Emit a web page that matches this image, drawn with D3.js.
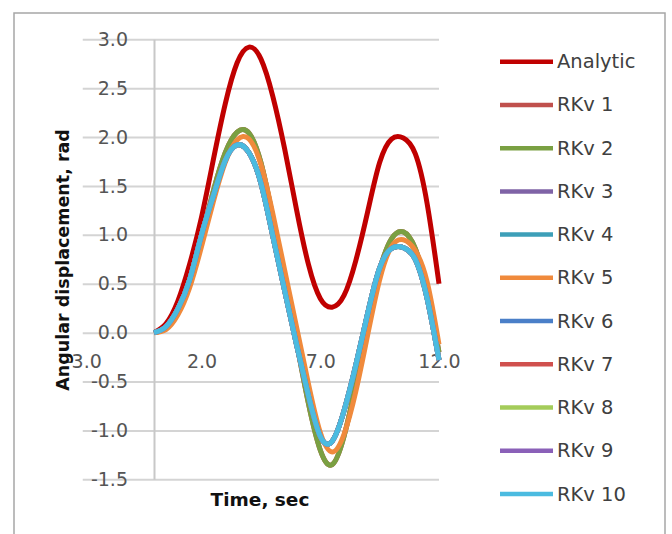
<!DOCTYPE html>
<html>
<head>
<meta charset="utf-8">
<script src="https://cdn.jsdelivr.net/npm/d3@7"></script>
<style>
  html, body { margin: 0; padding: 0; background: #ffffff; }
  svg { display: block; }
</style>
</head>
<body>
<svg id="chart" width="672" height="534"></svg>
<script>
// Time samples (s)
const timeSec = [0, 0.5, 1, 1.5, 2, 2.5, 3, 3.5, 4, 4.5, 5, 5.5, 6, 6.5, 7, 7.5, 8, 8.5, 9, 9.5, 10, 10.5, 11, 11.5, 12];

// Angular displacement (rad) for each solution
const analytic = [0, 0.09, 0.32, 0.70, 1.18, 1.77, 2.34, 2.76, 2.92, 2.80, 2.42, 1.88, 1.26, 0.70, 0.35, 0.26, 0.38, 0.74, 1.24, 1.74, 1.98, 1.99, 1.83, 1.32, 0.50];
const rkv1  = [0, 0.05, 0.22, 0.52, 0.97, 1.45, 1.84, 2.05, 2.04, 1.74, 1.18, 0.54, -0.10, -0.72, -1.20, -1.35, -1.06, -0.52, 0.10, 0.64, 0.96, 1.03, 0.86, 0.42, -0.20];
const rkv2  = [0, 0.05, 0.22, 0.52, 0.97, 1.45, 1.84, 2.05, 2.04, 1.74, 1.18, 0.54, -0.10, -0.72, -1.20, -1.35, -1.06, -0.52, 0.10, 0.64, 0.96, 1.03, 0.86, 0.42, -0.20];
const rkv3  = [0, 0.06, 0.24, 0.54, 1.00, 1.40, 1.76, 1.92, 1.84, 1.53, 0.99, 0.43, -0.12, -0.64, -1.06, -1.11, -0.80, -0.33, 0.20, 0.66, 0.86, 0.87, 0.75, 0.35, -0.28];
const rkv4  = [0, 0.06, 0.24, 0.54, 1.00, 1.40, 1.76, 1.92, 1.84, 1.53, 0.99, 0.43, -0.12, -0.64, -1.06, -1.11, -0.80, -0.33, 0.20, 0.66, 0.86, 0.87, 0.75, 0.35, -0.28];
const rkv5  = [0, 0.03, 0.18, 0.46, 0.88, 1.34, 1.74, 1.97, 1.98, 1.72, 1.22, 0.64, 0.06, -0.52, -1.02, -1.22, -1.04, -0.60, -0.02, 0.54, 0.88, 0.95, 0.84, 0.52, -0.12];
const rkv6  = [0, 0.06, 0.24, 0.54, 1.00, 1.40, 1.76, 1.92, 1.84, 1.53, 0.99, 0.43, -0.12, -0.64, -1.06, -1.11, -0.80, -0.33, 0.20, 0.66, 0.86, 0.87, 0.75, 0.35, -0.28];
const rkv7  = [0, 0.06, 0.24, 0.54, 1.00, 1.40, 1.76, 1.92, 1.84, 1.53, 0.99, 0.43, -0.12, -0.64, -1.06, -1.11, -0.80, -0.33, 0.20, 0.66, 0.86, 0.87, 0.75, 0.35, -0.28];
const rkv8  = [0, 0.06, 0.24, 0.54, 1.00, 1.40, 1.76, 1.92, 1.84, 1.53, 0.99, 0.43, -0.12, -0.64, -1.06, -1.11, -0.80, -0.33, 0.20, 0.66, 0.86, 0.87, 0.75, 0.35, -0.28];
const rkv9  = [0, 0.06, 0.24, 0.54, 1.00, 1.40, 1.76, 1.92, 1.84, 1.53, 0.99, 0.43, -0.12, -0.64, -1.06, -1.11, -0.80, -0.33, 0.20, 0.66, 0.86, 0.87, 0.75, 0.35, -0.28];
const rkv10 = [0, 0.06, 0.24, 0.54, 1.00, 1.40, 1.76, 1.92, 1.84, 1.53, 0.99, 0.43, -0.12, -0.64, -1.06, -1.11, -0.80, -0.33, 0.20, 0.66, 0.86, 0.87, 0.75, 0.35, -0.28];

const seriesNames  = ["Analytic", "RKv 1", "RKv 2", "RKv 3", "RKv 4", "RKv 5", "RKv 6", "RKv 7", "RKv 8", "RKv 9", "RKv 10"];
const seriesValues = [analytic, rkv1, rkv2, rkv3, rkv4, rkv5, rkv6, rkv7, rkv8, rkv9, rkv10];
const seriesColors = ["#c00000", "#c0504d", "#7aa042", "#7f63a6", "#3d9fb8", "#f08a3c", "#4a7fc8", "#d0504e", "#a4cc5a", "#8a60b8", "#4bbbe0"];

// Axis ticks
const xTicks = [-3, 2, 7, 12];
const yTicks = [-1.5, -1, -0.5, 0, 0.5, 1, 1.5, 2, 2.5, 3];

const svg = d3.select("#chart");
const FONT = "'DejaVu Sans', sans-serif";

// Chart frame
svg.append("rect")
  .attr("x", 14).attr("y", 13)
  .attr("width", 651).attr("height", 540)
  .attr("fill", "#ffffff")
  .attr("stroke", "#a6a6a6")
  .attr("stroke-width", 1.5);

const x = d3.scaleLinear().domain([-3, 12]).range([82.75, 439]);
const y = d3.scaleLinear().domain([-1.5, 3]).range([479.3, 39.3]);

// Horizontal gridlines across the whole plot area
const grid = svg.append("g")
  .attr("transform", `translate(${x(-3)},0)`)
  .call(d3.axisLeft(y).tickValues(yTicks).tickSize(-(x(12) - x(-3))).tickFormat(""));
grid.select(".domain").remove();
grid.selectAll(".tick line").attr("stroke", "#d4d4d4").attr("stroke-width", 2);

// Vertical axis line at t = 0 with its labels
const yAxis = svg.append("g")
  .attr("transform", `translate(${x(0)},0)`)
  .call(d3.axisLeft(y).tickValues(yTicks).tickSize(0).tickSizeOuter(0).tickPadding(26)
    .tickFormat(d => d.toFixed(1)));
yAxis.select(".domain").attr("stroke", "#c8c8c8").attr("stroke-width", 2);
yAxis.selectAll("text")
  .attr("font-family", FONT).attr("font-size", 19).attr("fill", "#555555");

// Horizontal axis labels along v = 0
const xAxis = svg.append("g")
  .attr("transform", `translate(0,${y(0)})`)
  .call(d3.axisBottom(x).tickValues(xTicks).tickSize(0).tickPadding(22)
    .tickFormat(d => d.toFixed(1)));
xAxis.select(".domain").remove();
xAxis.selectAll("text")
  .attr("font-family", FONT).attr("font-size", 19).attr("fill", "#555555");

// Solution curves
const line = d3.line()
  .x((d, i) => x(timeSec[i]))
  .y(d => y(d))
  .curve(d3.curveNatural);

svg.append("g").selectAll("path")
  .data(seriesValues)
  .join("path")
  .attr("d", d => line(d))
  .attr("fill", "none")
  .attr("stroke", (d, i) => seriesColors[i])
  .attr("stroke-width", 5)
  .attr("stroke-linejoin", "round");

// Axis titles
svg.append("text")
  .attr("transform", "translate(63,260) rotate(-90)")
  .attr("text-anchor", "middle")
  .attr("dominant-baseline", "central")
  .attr("font-family", FONT).attr("font-weight", "bold").attr("font-size", 17.5)
  .attr("fill", "#111111")
  .text("Angular displacement, rad");

svg.append("text")
  .attr("x", 260).attr("y", 506)
  .attr("text-anchor", "middle")
  .attr("font-family", FONT).attr("font-weight", "bold").attr("font-size", 18.5)
  .attr("fill", "#111111")
  .text("Time, sec");

// Legend
const legend = svg.append("g");
const legendY = d3.scaleLinear().domain([0, 10]).range([61.7, 494]);
const item = legend.selectAll("g")
  .data(seriesNames)
  .join("g")
  .attr("transform", (d, i) => `translate(0,${legendY(i)})`);
item.append("line")
  .attr("x1", 500).attr("x2", 553)
  .attr("stroke", (d, i) => seriesColors[i])
  .attr("stroke-width", 4.5);
item.append("text")
  .attr("x", 557)
  .attr("dominant-baseline", "central")
  .attr("font-family", FONT).attr("font-size", 19.5)
  .attr("fill", "#404040")
  .text(d => d);
</script>
</body>
</html>
